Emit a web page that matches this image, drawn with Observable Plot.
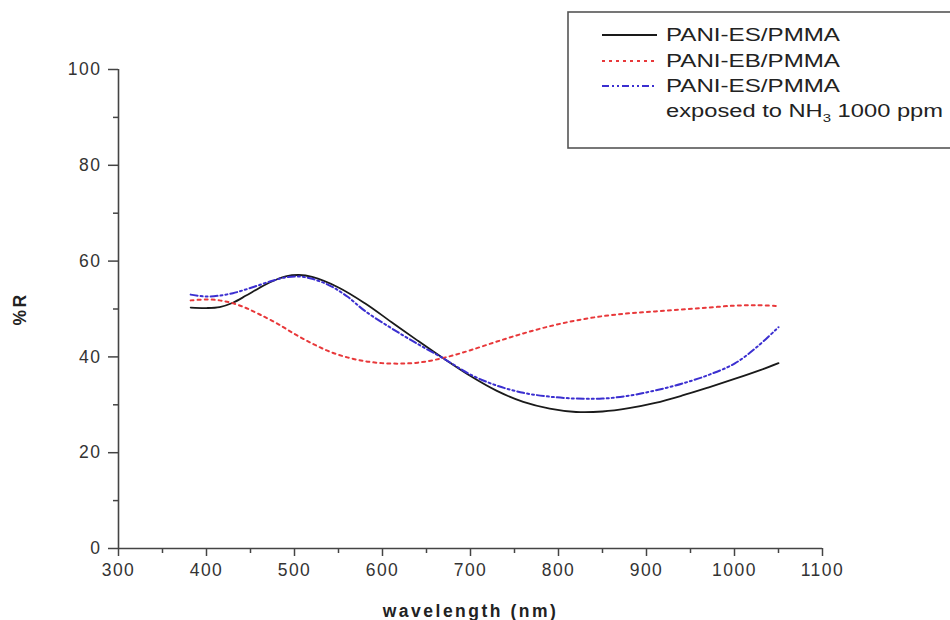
<!DOCTYPE html>
<html><head><meta charset="utf-8">
<script src="https://cdn.jsdelivr.net/npm/d3@7"></script>
<script src="https://cdn.jsdelivr.net/npm/@observablehq/plot@0.6"></script>
<style>
body{margin:0;background:#fff;font-family:"Liberation Sans",Arial,sans-serif;}
#wrap{position:relative;width:950px;height:620px;overflow:hidden;background:#fff;}
#chart svg{display:block}
#legend{position:absolute;left:0;top:0}
g[aria-label="x-axis label"] text, g[aria-label="y-axis label"] text{font-weight:bold;letter-spacing:2.5px;fill:#222;}
g[aria-label="x-axis tick label"] text, g[aria-label="y-axis tick label"] text{letter-spacing:1.5px;fill:#333;}
</style></head><body>
<div id="wrap"><div id="chart"></div><svg id="legend" width="950" height="160"></svg></div>
<script>
// ---- data ----
const esWl = [382,400,415,430,445,460,475,490,505,520,550,580,610,640,670,700,730,760,790,820,850,880,910,940,970,1000,1030,1050];
const esR  = [50.3,50.2,50.4,51.3,52.8,54.4,55.8,56.8,57.1,56.7,54.5,51.2,47.3,43.4,39.6,36.0,32.9,30.6,29.2,28.5,28.6,29.3,30.4,31.9,33.6,35.4,37.3,38.7];

const ebWl = [382,400,415,430,445,460,480,500,520,540,560,580,600,620,640,660,680,700,730,760,790,820,850,880,910,940,970,1000,1025,1050];
const ebR  = [51.8,52.0,51.8,51.2,50.2,48.9,47.0,44.8,42.8,41.1,39.9,39.1,38.7,38.6,38.8,39.4,40.3,41.4,43.2,44.9,46.4,47.6,48.5,49.1,49.5,49.9,50.3,50.7,50.8,50.6];

const nhWl = [382,400,415,430,445,460,475,490,505,520,540,560,580,610,640,670,700,730,760,790,820,850,880,910,940,970,1000,1025,1050];
const nhR  = [53.0,52.6,52.8,53.3,54.1,55.0,55.9,56.6,56.8,56.3,54.9,52.6,49.6,46.0,42.7,39.6,36.3,34.0,32.5,31.7,31.3,31.3,31.9,33.0,34.4,36.2,38.6,42.0,46.2];

const xMajor = [300,400,500,600,700,800,900,1000,1100];
const xMinor = [350,450,550,650,750,850,950,1050];
const yMajor = [0,20,40,60,80,100];
const yMinor = [10,30,50,70,90];

const names  = ["PANI-ES/PMMA","PANI-EB/PMMA","PANI-ES/PMMA"];
const colors = ["#1a1a1a","#e8383a","#3b2fd0"];
const dashes = [null,"3,4","7,3,2,3,2,3"];
const widths = [1.8,2,2];

const toRows = (wl, r) => wl.map((w, i) => ({w, r: r[i]}));
const series = [toRows(esWl, esR), toRows(ebWl, ebR), toRows(nhWl, nhR)];

const axisColor = "#444";
const fmt = d3.format("d");

const plot = Plot.plot({
  width: 950, height: 620,
  marginLeft: 118, marginRight: 128, marginTop: 69, marginBottom: 72,
  x: {domain: [300, 1100], label: null},
  y: {domain: [0, 100], label: null},
  style: {fontFamily: '"Liberation Sans", Arial, sans-serif', fontSize: "17.5px", color: axisColor, background: "white", overflow: "visible"},
  marks: [
    Plot.ruleY([0], {x1: 300, x2: 1100, stroke: axisColor, strokeWidth: 1.6}),
    Plot.ruleX([300], {y1: 0, y2: 100, stroke: axisColor, strokeWidth: 1.6}),
    Plot.axisX(xMajor, {tickSize: 8, tickPadding: 7, strokeWidth: 1.5, tickFormat: fmt, label: "wavelength (nm)", labelAnchor: "center", labelArrow: "none", labelOffset: 68}),
    Plot.axisX(xMinor, {tickSize: 5, strokeWidth: 1.5, tickFormat: () => "", label: null}),
    Plot.axisY(yMajor, {tickSize: 10, tickPadding: 7, strokeWidth: 1.5, tickFormat: fmt, label: "%R", labelAnchor: "center", labelArrow: "none", labelOffset: 105}),
    Plot.axisY(yMinor, {tickSize: 5, strokeWidth: 1.5, tickFormat: () => "", label: null}),
    ...series.map((d, i) => Plot.line(d, {x: "w", y: "r", stroke: colors[i], strokeWidth: widths[i], strokeDasharray: dashes[i], curve: "catmull-rom"}))
  ]
});
document.getElementById("chart").appendChild(plot);

// ---- legend ----
const lg = d3.select("#legend");
lg.append("rect").attr("x", 568).attr("y", 12).attr("width", 420).attr("height", 136)
  .attr("fill", "white").attr("stroke", "#555").attr("stroke-width", 1.6);
const rowY = [35, 61, 86];
names.forEach((n, i) => {
  lg.append("line").attr("x1", 602).attr("x2", 657).attr("y1", rowY[i]).attr("y2", rowY[i])
    .attr("stroke", colors[i]).attr("stroke-width", widths[i])
    .attr("stroke-dasharray", dashes[i]);
  lg.append("text").attr("x", 666).attr("y", rowY[i] + 6.3)
    .attr("font-size", 17.5).attr("fill", "#222")
    .attr("textLength", 174).attr("lengthAdjust", "spacingAndGlyphs")
    .text(n);
});
const t4 = lg.append("text").attr("x", 666).attr("y", 117).attr("font-size", 17.5).attr("fill", "#222")
  .attr("textLength", 277).attr("lengthAdjust", "spacingAndGlyphs");
t4.append("tspan").text("exposed to NH");
t4.append("tspan").attr("font-size", 11).attr("dy", 5).text("3");
t4.append("tspan").attr("dy", -5).text(" 1000 ppm");
</script>
</body></html>
